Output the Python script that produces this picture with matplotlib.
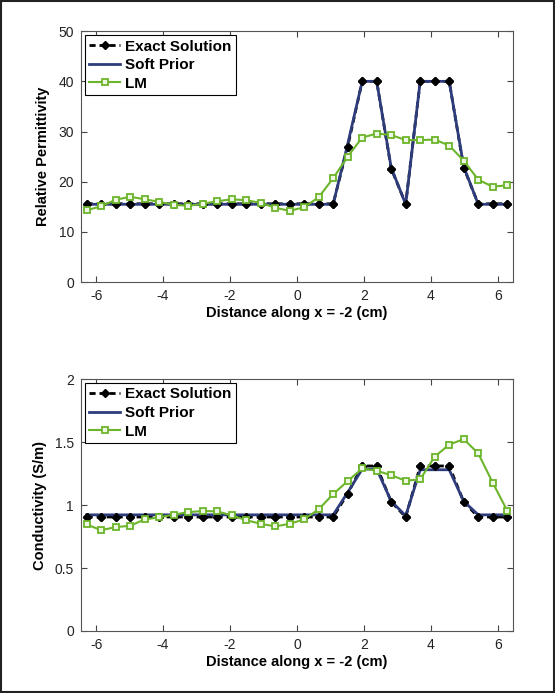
import numpy as np
import matplotlib.pyplot as plt
from matplotlib.patches import Rectangle

plt.rcParams['font.family'] = ['Liberation Sans', 'DejaVu Sans']
plt.rcParams['axes.unicode_minus'] = False

# -----------------------------
# Data
# -----------------------------
x = np.linspace(-2 * np.pi, 2 * np.pi, 30)

eps_exact = [15.6] * 18 + [27.0, 40.0, 40.0, 22.6, 15.6, 40.0, 40.0, 40.0, 22.8, 15.6, 15.6, 15.6]
eps_soft = [15.5] * 18 + [27.5, 40.0, 40.0, 22.8, 15.5, 40.0, 40.0, 40.0, 23.0, 15.5, 15.5, 15.5]
eps_lm = [14.3, 15.1, 16.4, 17.0, 16.5, 16.0, 15.4, 15.2, 15.6, 16.1,
          16.5, 16.3, 15.8, 14.8, 14.2, 14.9, 16.9, 20.7, 25.0, 28.8,
          29.6, 29.3, 28.3, 28.3, 28.4, 27.2, 24.2, 20.4, 19.0, 19.3]

sig_exact = [0.905] * 18 + [1.09, 1.31, 1.31, 1.025, 0.905, 1.31, 1.31, 1.31, 1.025, 0.905, 0.905, 0.905]
sig_soft = [0.922] * 18 + [1.10, 1.285, 1.285, 1.03, 0.915, 1.28, 1.28, 1.28, 1.03, 0.922, 0.922, 0.922]
sig_lm = [0.846, 0.80, 0.825, 0.835, 0.886, 0.902, 0.923, 0.944, 0.952, 0.950,
          0.918, 0.880, 0.851, 0.830, 0.851, 0.886, 0.966, 1.087, 1.19, 1.29,
          1.273, 1.236, 1.193, 1.204, 1.384, 1.48, 1.523, 1.41, 1.177, 0.955]

xticks = [-6, -4, -2, 0, 2, 4, 6]

# -----------------------------
# Figure
# -----------------------------
fig = plt.figure(figsize=(5.55, 6.93), dpi=100)
fig.patches.append(Rectangle((0.001, 0.001), 0.997, 0.998, transform=fig.transFigure,
                             fill=False, edgecolor='#222222', linewidth=1.5))

ax1 = fig.add_axes([0.146, 0.593, 0.778, 0.362])
ax2 = fig.add_axes([0.146, 0.0895, 0.778, 0.3635])


def draw(ax, exact, soft, lm, ylim, yticks, ylabel):
    ax.plot(x, exact, color='black', linestyle=(0, (2.2, 1.4)), linewidth=2.0,
            marker='D', markersize=4, label='Exact Solution', zorder=3)
    ax.plot(x, soft, color='#2e3c7c', linewidth=2.0, label='Soft Prior', zorder=3.5)
    # exact-solution markers again, above the soft prior line
    ax.plot(x, exact, linestyle='none', color='black', marker='D', markersize=4, zorder=3.7)
    ax.plot(x, lm, color='#6cb52a', linewidth=1.5, marker='s', markersize=4.5,
            markerfacecolor='#eef7e4', markeredgecolor='#6cb52a', markeredgewidth=1.3,
            label='LM', zorder=4)
    ax.set_xlim(-6.45, 6.45)
    ax.set_ylim(*ylim)
    ax.set_xticks(xticks)
    ax.set_yticks(yticks)
    ax.tick_params(direction='in', top=True, right=True, length=4, width=0.8,
                   color='#444444', labelsize=10, labelcolor='#222222', pad=5)
    for s in ax.spines.values():
        s.set_color('#555555')
        s.set_linewidth(0.8)
    ax.set_xlabel('Distance along x = -2 (cm)', fontsize=10.5, fontweight='bold', labelpad=2)
    ax.set_ylabel(ylabel, fontsize=10.5, fontweight='bold', labelpad=6)
    leg = ax.legend(loc='upper left', prop={'weight': 'bold', 'size': 11},
                    handlelength=2.0, handletextpad=0.3, borderpad=0.3,
                    labelspacing=0.3, fancybox=False, framealpha=1,
                    borderaxespad=0.25)
    leg.get_frame().set_edgecolor('black')
    leg.get_frame().set_linewidth(0.8)


draw(ax1, eps_exact, eps_soft, eps_lm, (0, 50), [0, 10, 20, 30, 40, 50], 'Relative Permittivity')
draw(ax2, sig_exact, sig_soft, sig_lm, (0, 2), [0, 0.5, 1, 1.5, 2], 'Conductivity (S/m)')
ax2.set_yticklabels(['0', '0.5', '1', '1.5', '2'])

fig.savefig('out.png', dpi=100)
